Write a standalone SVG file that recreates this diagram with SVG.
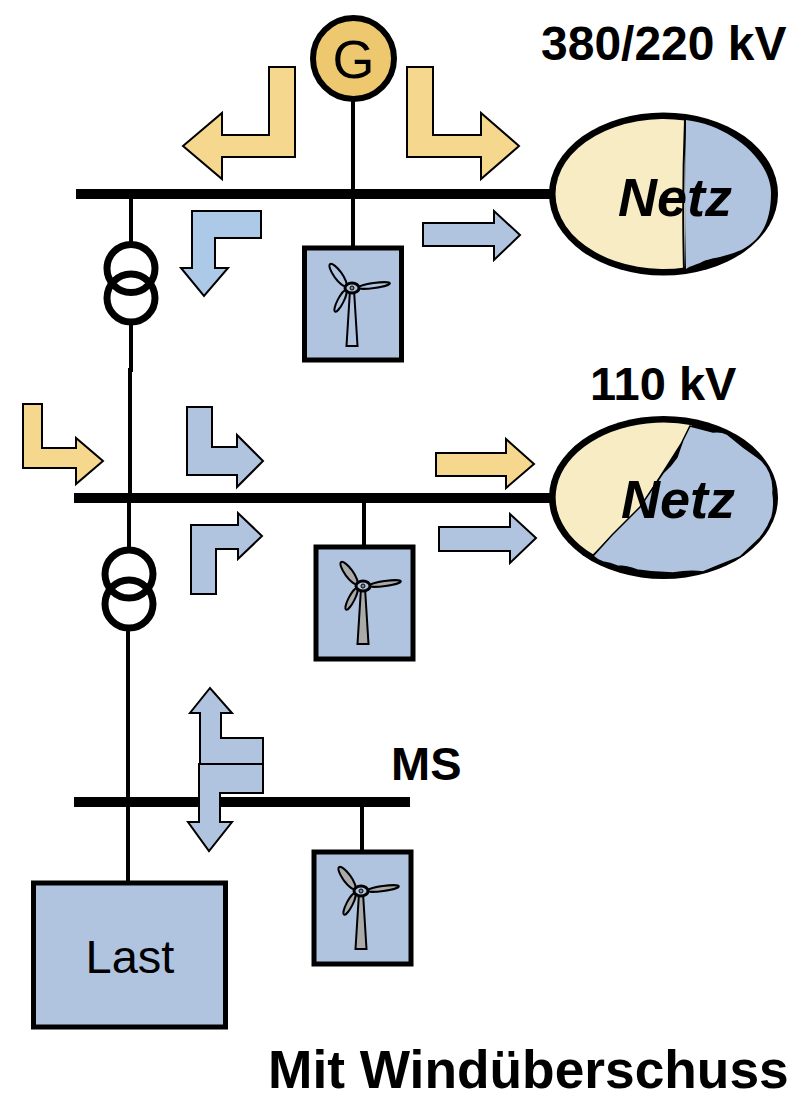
<svg xmlns="http://www.w3.org/2000/svg" width="812" height="1103" viewBox="0 0 812 1103">
<style>
text{font-family:"Liberation Sans",Arial,sans-serif;fill:#000}
.b{font-weight:700}
.net{font-weight:700;font-style:italic;font-size:54px}
.bus{stroke:#000;fill:none;stroke-width:10}
.w{stroke:#000;fill:none;stroke-width:4}
.ar{stroke:#000;stroke-width:2}
.y{fill:#f5d78e}
.bl{fill:#b0c4e0}
.cr{fill:#f7ecc4}
.box{fill:#b0c4e0;stroke:#000;stroke-width:5}
.tr{fill:none;stroke:#000;stroke-width:7}
.t{stroke:#000;stroke-width:2}
</style>
<defs>
<g id="turbine">
<path class="t" d="M-5.500 58L-2 2H2L5.500 58Z"/>
<ellipse class="t" cx="-14" cy="-13" rx="4" ry="13.500" transform="rotate(-36 -14 -13)"/>
<ellipse class="t" cx="-11.500" cy="13" rx="3" ry="12" transform="rotate(27 -11.500 13)"/>
<ellipse class="t" cx="22" cy="-2.500" rx="16" ry="2.500" transform="rotate(-8 22 -2.500)"/>
<ellipse cx="0" cy="0" rx="7" ry="5" fill="#b0c4e0" stroke="#000" stroke-width="3"/>
<ellipse cx="0" cy="0" rx="2" ry="2" fill="#888" stroke="#000" stroke-width="1"/>
</g>
</defs>
<g id="connectors">
<path class="bus" d="M76 194H552M74 498H552M74 802H410"/>
<path class="w" d="M353 100V246M131 196V245M131 325V372M130 368V500M129 500V552M128 628V882M364 500V546M362 802V852"/>
</g>
<g id="generator"><circle cx="353.500" cy="58.500" r="40.500" fill="#eec86f" stroke="#000" stroke-width="6"/><text x="353.500" y="78" font-size="54" text-anchor="middle">G</text></g>
<g id="label-380"><text class="b" x="541" y="60" font-size="48">380/220 kV</text></g>
<g id="label-110"><text class="b" x="590" y="400" font-size="47">110 kV</text></g>
<g id="label-ms"><text class="b" x="391" y="780" font-size="47">MS</text></g>
<g id="label-title"><text class="b" x="268" y="1088" font-size="53.300">Mit Windüberschuss</text></g>
<g id="netz-1">
<ellipse cx="663.500" cy="194" rx="114.500" ry="81.500" fill="#000"/>
<path class="cr" d="M685 120.500A108 75 0 1 0 685 267.500Z"/>
<path class="bl" d="M686 120C730 125 771 160 771 193C771 215 765 232 753 242C742 252 730 254 720 257C710 259 705 260 700 263C695 265 690 266 686 269Q684 195 686 120Z"/>
<path d="M685 120Q682 195 684 270" fill="none" stroke="#000" stroke-width="2"/>
<text class="net" x="618" y="216">Netz</text>
</g>
<g id="netz-2">
<ellipse cx="663.500" cy="497.500" rx="114.500" ry="81.500" fill="#000"/>
<path class="cr" d="M692 425.200A108 75 0 0 0 593 554.300L640 507L692 425.200Z"/>
<path class="bl" stroke="#000" stroke-width="1.500" d="M690 426L713 432Q721 431 727 434L743 447L757 457Q766 463 770 473Q774 483 773 493Q775 505 772 517Q768 528 760 538L740 557Q730 561 720 565L703 572Q690 570 673 573Q655 573 637 570Q627 566 617 566Q610 563 603 562Q597 560 593 556L612 535L640 507L663 473Q671 466 677 457Q680 448 683 440Z"/>
<text class="net" x="621" y="518">Netz</text>
</g>
<g id="transformer-1"><circle class="tr" cx="131" cy="268.500" r="24"/><circle class="tr" cx="131" cy="298" r="24"/></g>
<g id="transformer-2"><circle class="tr" cx="129" cy="574" r="24"/><circle class="tr" cx="129" cy="604" r="24"/></g>
<g id="wka-1"><rect class="box" x="304.500" y="248" width="97" height="112"/><use href="#turbine" x="352" y="288" fill="none"/></g>
<g id="wka-2"><rect class="box" x="316" y="547" width="97" height="112"/><use href="#turbine" x="363" y="586" fill="#aaa"/></g>
<g id="wka-3"><rect class="box" x="314" y="852" width="97" height="112"/><use href="#turbine" x="361" y="891" fill="#aaa"/></g>
<g id="last"><rect class="box" x="33.500" y="883" width="192" height="144"/><text x="130" y="973" font-size="47" text-anchor="middle">Last</text></g>
<g id="arrows">
<path class="ar y" d="M295 67V157H222V179L183 146L222 113V135H269V67Z"/>
<path class="ar y" d="M407 67V157H481V179L519 146L481 113V135H433V67Z"/>
<path class="ar" fill="#accae8" d="M261 211H192V268H181L204 296L228 268H215V238H261Z"/>
<path class="ar bl" d="M423 223H494V211L520 235L494 260V246H423Z"/>
<path class="ar y" d="M23 404V468H76V484L103 461L76 438V448H42V404Z"/>
<path class="ar bl" d="M187 407V475H237V487L263 461L237 435V447H212V407Z"/>
<path class="ar y" d="M436 453H506V439L534 464L506 488V476H436Z"/>
<path class="ar bl" d="M191 594V525H238V513L262 536L238 559V549H216V594Z"/>
<path class="ar bl" d="M439 527H510V514L536 538L510 563V551H439Z"/>
<path class="ar bl" d="M263 738H221V713H232L210 688L190 713H200V764H263Z"/>
<path class="ar bl" d="M199 764H263V793H220V822H232L209 851L188 822H199Z"/>
</g>
</svg>
